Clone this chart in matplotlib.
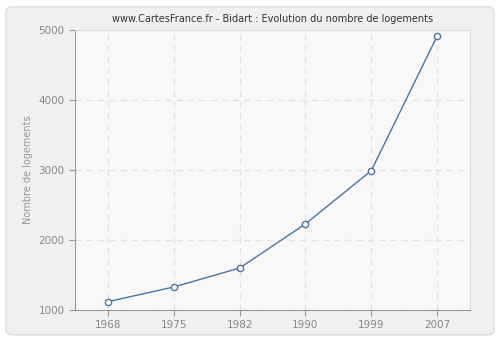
import matplotlib.pyplot as plt
from matplotlib.patches import FancyBboxPatch

# Housing counts for Bidart by census year
years = ['1968', '1975', '1982', '1990', '1999', '2007']
logements = [1120, 1330, 1600, 2230, 2990, 4910]

plt.rcParams['hatch.linewidth'] = 0.5
plt.rcParams['hatch.color'] = '#ececec'

fig = plt.figure(figsize=(5, 3.4), dpi=100)
fig.patch.set_facecolor('#ffffff')

# rounded light-grey panel behind the chart
panel = FancyBboxPatch((0.012, 0.015), 0.976, 0.965,
                       boxstyle='round,pad=0,rounding_size=0.015',
                       transform=fig.transFigure, facecolor='#f0f0f0',
                       edgecolor='#dddddd', linewidth=1, zorder=-5)
fig.patches.append(panel)

ax = fig.add_axes([0.15, 0.088, 0.79, 0.824])
ax.set_facecolor('#f8f8f8')
ax.patch.set_hatch('/////')

x = range(len(years))
ax.plot(x, logements, color='#4a74a8', linewidth=1, marker='o',
        markersize=4.5, markerfacecolor='white', markeredgecolor='#4a74a8',
        markeredgewidth=1, zorder=3)

ax.set_xlim(-0.5, len(years) - 0.5)
ax.set_ylim(1000, 5000)
ax.set_xticks(list(x))
ax.set_xticklabels(years)
ax.set_yticks([1000, 2000, 3000, 4000, 5000])

ax.grid(True, color='#e2e2e2', linestyle=(0, (5, 4)), linewidth=0.9)
ax.set_axisbelow(True)

for side in ['top', 'right']:
    ax.spines[side].set_color('#dddddd')
for side in ['left', 'bottom']:
    ax.spines[side].set_color('#999999')
ax.tick_params(colors='#999999', labelcolor='#888888', labelsize=7.5,
               length=4, width=0.8)

ax.set_ylabel('Nombre de logements', fontsize=7, color='#999999')
ax.set_title('www.CartesFrance.fr - Bidart : Evolution du nombre de logements',
             fontsize=7, color='#333333', pad=6)

plt.savefig('out.png', dpi=100, facecolor=fig.get_facecolor())
